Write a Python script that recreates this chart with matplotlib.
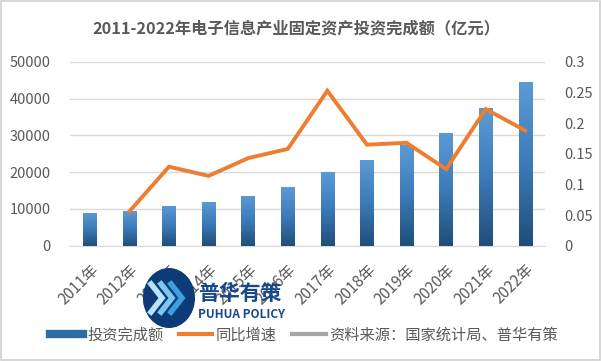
import numpy as np
from matplotlib import pyplot as plt
from matplotlib.patches import Ellipse, Rectangle
from matplotlib.lines import Line2D
from matplotlib.colors import LinearSegmentedColormap

plt.rcParams['font.family'] = ['Noto Sans CJK SC', 'DejaVu Sans']

years = ['2011年', '2012年', '2013年', '2014年', '2015年', '2016年',
         '2017年', '2018年', '2019年', '2020年', '2021年', '2022年']
# 投资完成额（亿元）
invest = [9000, 9500, 10900, 12000, 13650, 15850,
          20000, 23300, 27400, 30700, 37500, 44600]
# 同比增速（2011年无数据）
growth = [np.nan, 0.056, 0.129, 0.114, 0.143, 0.158,
          0.253, 0.165, 0.168, 0.125, 0.223, 0.188]

TXT = '#595959'
GRID = '#d9d9d9'
ORANGE = '#ED7D31'
W, H = 601, 361


def fx(px):
    return px / W


def fy(py):
    return 1 - py / H


fig = plt.figure(figsize=(6.01, 3.61), dpi=100)
fig.patch.set_facecolor('white')
fig.add_artist(Rectangle((0.002, 0.003), 0.996, 0.994, transform=fig.transFigure,
                         fill=False, edgecolor='#d0d0d0', linewidth=1.2))

ax = fig.add_axes([0.1165, 0.3194, 0.7905, 0.5089])
x = np.arange(len(years))
bars = ax.bar(x, invest, width=0.34, color='#4a8ccf', zorder=2)

# 柱子渐变填充
grad = np.linspace(0, 1, 256).reshape(-1, 1)
cmap = LinearSegmentedColormap.from_list('b', ['#1f4e79', '#3d7ab8', '#5b9bd5'])
for b in bars:
    bx, by = b.get_x(), b.get_y()
    w, h = b.get_width(), b.get_height()
    im = ax.imshow(grad, extent=[bx, bx + w, by, by + h], origin='lower',
                   cmap=cmap, aspect='auto', zorder=3)
    im.set_clip_path(b)

ax.set_xlim(-0.5, len(years) - 0.5)
ax.set_ylim(0, 50000)
ax.set_yticks(range(0, 50001, 10000))
ax.yaxis.grid(True, color=GRID, linewidth=1)
ax.set_axisbelow(True)
for s in ['top', 'right', 'left']:
    ax.spines[s].set_visible(False)
ax.spines['bottom'].set_color(GRID)
ax.tick_params(axis='both', length=0, colors=TXT, labelsize=10.5)
ax.tick_params(axis='y', pad=14)
ax.set_xticks(x)
ax.set_xticklabels(years, rotation=45, ha='right', rotation_mode='anchor', fontsize=11)
ax.tick_params(axis='x', pad=11)

ax2 = ax.twinx()
ax2.plot(x, growth, color=ORANGE, linewidth=2.8, solid_joinstyle='miter', zorder=4)
ax2.set_ylim(0, 0.3)
ax2.set_yticks([0, 0.05, 0.1, 0.15, 0.2, 0.25, 0.3])
ax2.set_yticklabels(['0', '0.05', '0.1', '0.15', '0.2', '0.25', '0.3'])
for s in ax2.spines.values():
    s.set_visible(False)
ax2.tick_params(axis='y', length=0, colors=TXT, labelsize=10.5, pad=14)

fig.text(0.493, 0.922, '2011-2022年电子信息产业固定资产投资完成额（亿元）',
         fontsize=11.7, fontweight='bold', color=TXT, ha='center', va='center')

handles = [Line2D([], [], color='#2e6da4', linewidth=6),
           Line2D([], [], color=ORANGE, linewidth=3),
           Line2D([], [], color='#a6a6a6', linewidth=3)]
labels = ['投资完成额', '同比增速', '资料来源：国家统计局、普华有策']
fig.legend(handles, labels, loc='center', bbox_to_anchor=(0.506, 0.072), ncol=3,
           frameon=False, fontsize=11, labelcolor=TXT, handlelength=2.2,
           handletextpad=0.25, columnspacing=1.0)

# 水印标志
fig.add_artist(Ellipse((fx(169), fy(298)), fx(52), 60 / H,
                       transform=fig.transFigure, facecolor='#0d3b78', zorder=5))
for i, c in enumerate(['#b9e3f7', '#7cc7ee', '#3d9fdc']):
    x0 = 151 + i * 10
    fig.add_artist(Line2D([fx(x0), fx(x0 + 11), fx(x0)], [fy(284), fy(298), fy(312)],
                          transform=fig.transFigure, color=c, linewidth=4,
                          solid_joinstyle='miter', zorder=6))
fig.text(fx(198), fy(293), '普华有策', fontsize=15, color='#17498a',
         fontweight='bold', ha='left', va='center', zorder=6)
fig.text(fx(198), fy(314), 'PUHUA POLICY', fontsize=8.5, color='#17498a',
         fontweight='bold', ha='left', va='center', zorder=6)

fig.savefig('out.png', dpi=100)
